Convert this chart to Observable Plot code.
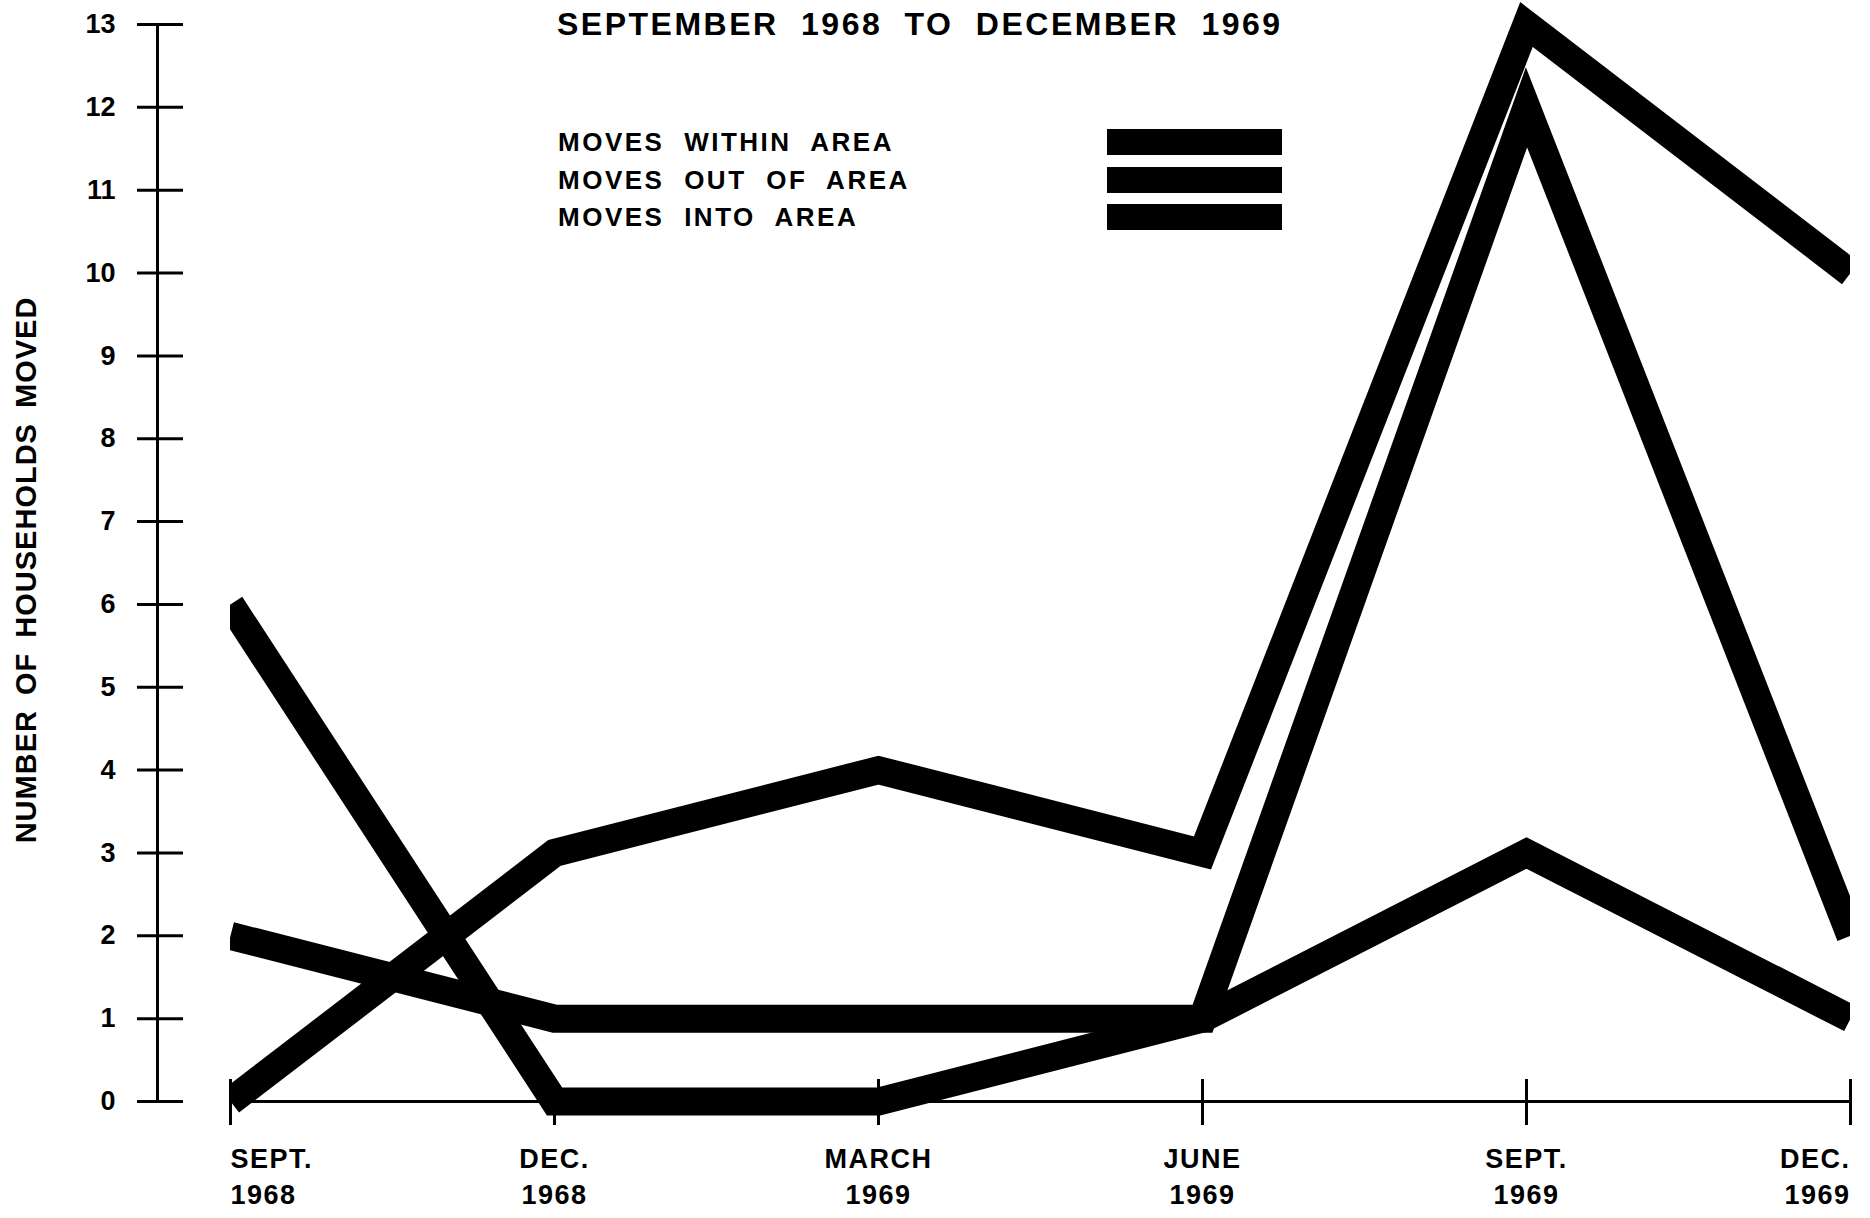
<!DOCTYPE html>
<html>
<head>
<meta charset="utf-8">
<script src="https://cdn.jsdelivr.net/npm/d3@7"></script>
<script src="https://cdn.jsdelivr.net/npm/@observablehq/plot@0.6"></script>
<style>
  body { margin: 0; background: #fff; }
  #wrap { position: relative; width: 1870px; height: 1218px; font-family: "Liberation Sans", Arial, sans-serif; color: #000; }
  #title { position: absolute; left: 557px; top: 8px; font-size: 32px; font-weight: bold; line-height: 32px; letter-spacing: 2.5px; word-spacing: 11px; white-space: nowrap; }
  .row { position: absolute; left: 558px; height: 26px; line-height: 26px; font-size: 26px; font-weight: bold; letter-spacing: 2.5px; word-spacing: 10px; white-space: nowrap; }
  .sw { position: absolute; left: 1107px; width: 175px; height: 26px; background: #000; }
</style>
</head>
<body>
<div id="wrap"></div>
<script>
// ---- data ----
const periods = ["SEPT.\n1968", "DEC.\n1968", "MARCH\n1969", "JUNE\n1969", "SEPT.\n1969", "DEC.\n1969"];
const seriesNames = ["MOVES WITHIN AREA", "MOVES OUT OF AREA", "MOVES INTO AREA"];
const movesWithin = [0, 3, 4, 3, 13, 10];
const movesOut = [2, 1, 1, 1, 12, 2];
const movesInto = [6, 0, 0, 1, 3, 1];
const yTicks = [0, 1, 2, 3, 4, 5, 6, 7, 8, 9, 10, 11, 12, 13];
const titleText = "SEPTEMBER 1968 TO DECEMBER 1969";
const yLabel = "NUMBER OF HOUSEHOLDS MOVED";

const rows = [];
[movesWithin, movesOut, movesInto].forEach((vals, s) =>
  vals.forEach((v, i) => rows.push({series: seriesNames[s], period: periods[i], value: v}))
);

const axisCommon = {tickSize: 46, dy: -44, tickPadding: 18, fontSize: 27, fontWeight: "bold", lineHeight: 1.3, strokeWidth: 3, label: null};

const chart = Plot.plot({
  width: 1870,
  height: 1218,
  marginLeft: 230,
  marginRight: 20,
  marginTop: 0,
  marginBottom: 95,
  insetTop: 24,
  insetBottom: 22,
  x: {type: "point", domain: periods, padding: 0},
  y: {domain: [0, 13]},
  style: {fontFamily: '"Liberation Sans", Arial, sans-serif', color: "black", background: "white", overflow: "visible"},
  marks: [
    Plot.ruleY([0], {strokeWidth: 3}),
    Plot.ruleX([{x: periods[0], y1: yTicks[0], y2: yTicks[yTicks.length - 1]}], {x: "x", y1: "y1", y2: "y2", dx: -73, strokeWidth: 3}),
    Plot.axisY({ticks: yTicks, tickSize: 46, dx: -47, tickPadding: 22, fontSize: 27, fontWeight: "bold", strokeWidth: 3, label: null, tickFormat: d => String(d)}),
    Plot.axisX({...axisCommon, ticks: [periods[0]], textAnchor: "start"}),
    Plot.axisX({...axisCommon, ticks: periods.slice(1, -1), textAnchor: "middle"}),
    Plot.axisX({...axisCommon, ticks: [periods[periods.length - 1]], textAnchor: "end"}),
    Plot.line(rows, {x: "period", y: "value", z: "series", stroke: "black", strokeWidth: 28,
      strokeLinejoin: "miter", strokeMiterlimit: 10, strokeLinecap: "butt", clip: true}),
    Plot.text([yLabel], {frameAnchor: "left", textAnchor: "middle", lineAnchor: "middle", rotate: -90, dx: -204, dy: 8, fontSize: 29, fontWeight: "bold"})
  ]
});

d3.select(chart).selectAll('g[aria-label="x-axis tick label"]').attr("letter-spacing", "1.5px");
d3.select(chart).selectAll('g[aria-label="text"]').attr("letter-spacing", "1px").attr("word-spacing", "6px");

const wrap = document.getElementById("wrap");
wrap.appendChild(chart);

const t = document.createElement("div");
t.id = "title";
t.textContent = titleText;
wrap.appendChild(t);

seriesNames.forEach((name, i) => {
  const r = document.createElement("div");
  r.className = "row";
  r.style.top = (129 + 37.5 * i) + "px";
  r.textContent = name;
  wrap.appendChild(r);
  const s = document.createElement("div");
  s.className = "sw";
  s.style.top = (129 + 37.5 * i) + "px";
  wrap.appendChild(s);
});
</script>
</body>
</html>
